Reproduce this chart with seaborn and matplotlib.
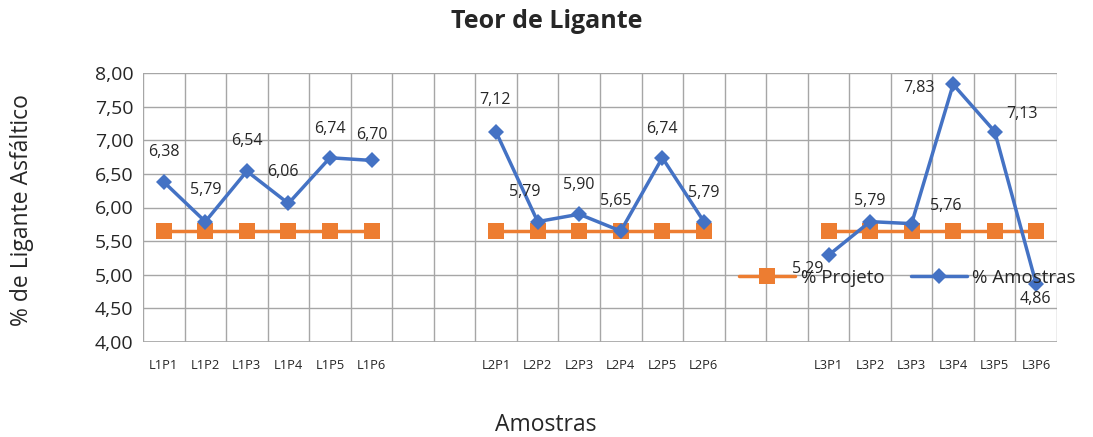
import numpy as np
import pandas as pd
import matplotlib.pyplot as plt
from matplotlib.lines import Line2D
import seaborn as sns

# Teor de ligante por amostra (3 lotes, 6 pontos cada)

lotes = ['L1', 'L2', 'L3']
pontos = ['P1', 'P2', 'P3', 'P4', 'P5', 'P6']
amostras_l1 = [6.38, 5.79, 6.54, 6.06, 6.74, 6.70]
amostras_l2 = [7.12, 5.79, 5.90, 5.65, 6.74, 5.79]
amostras_l3 = [5.29, 5.79, 5.76, 7.83, 7.13, 4.86]
projeto = 5.65

# label offsets (pixels) for each data label, picked to look like the excel chart
offsets = [
    [(0, 30), (0, 32), (0, 30), (-6, 31), (0, 29), (0, 25)],
    [(-1, 32), (-13, 30), (0, 29), (-5, 30), (0, 29), (0, 29)],
    [(-21, -14), (0, 21), (34, 18), (-34, -4), (27, 18), (-1, -15)],
]

sns.set_style('white')
plt.rcParams['font.family'] = ['Open Sans', 'DejaVu Sans']

fig, ax = plt.subplots(figsize=(10.93, 4.37), dpi=100)
fig.subplots_adjust(left=143/1093, right=1057/1093, top=1-73/437, bottom=1-342/437)

blue = '#4472C4'
orange = '#ED7D31'

labels = []
for g, lote in enumerate(lotes):
    vals = [amostras_l1, amostras_l2, amostras_l3][g]
    x = np.arange(6) + g * 8
    df = pd.DataFrame({'x': x, 'amostra': vals, 'projeto': [projeto] * 6})
    sns.lineplot(data=df, x='x', y='projeto', ax=ax, color=orange, linewidth=2.5,
                 marker='s', markersize=11, markeredgewidth=0, zorder=3)
    sns.lineplot(data=df, x='x', y='amostra', ax=ax, color=blue, linewidth=2.5,
                 marker='D', markersize=8, markeredgewidth=0, zorder=4)
    for i, v in enumerate(vals):
        dx, dy = offsets[g][i]
        ax.annotate(f'{v:.2f}'.replace('.', ','), (x[i], v), xytext=(dx, dy),
                    textcoords='offset pixels', ha='center', va='center', fontsize=11.5, zorder=5)
    labels += [lote + p for p in pontos] + ['', '']

labels = labels[:22]

ax.set_xlim(-0.5, 21.5)
ax.set_ylim(4, 8)
ax.set_xticks(np.arange(-0.5, 22, 1))
ax.set_xticklabels([])
ax.set_xticks(np.arange(22), labels, minor=True)
ax.tick_params(axis='x', which='major', length=5, color='#A6A6A6', width=1, direction='out')
ax.tick_params(axis='x', which='minor', length=0, labelsize=9.3, pad=12)
yt = np.arange(4, 8.01, 0.5)
ax.set_yticks(yt, [f'{t:.2f}'.replace('.', ',') for t in yt])
ax.tick_params(axis='y', length=3, color='#A6A6A6', labelsize=14, pad=4)
ax.grid(True, which='major', color='#A6A6A6', linewidth=1)
for s in ax.spines.values():
    s.set_visible(False)
ax.axhline(4, color='#A6A6A6', linewidth=1.2, zorder=1)

ax.set_xlabel('')
ax.set_ylabel('')
fig.text(0.5, 1 - 22/437, 'Teor de Ligante', ha='center', va='center', fontsize=18, fontweight='bold')
fig.text(22/1093, 1 - 210/437, '% de Ligante Asfáltico', rotation=90, ha='center', va='center', fontsize=16.5)
fig.text(546/1093, 1 - 425/437, 'Amostras', ha='center', va='center', fontsize=16.5)

handles = [
    Line2D([], [], color=orange, marker='s', markersize=11, markeredgewidth=0, linewidth=2.5),
    Line2D([], [], color=blue, marker='D', markersize=8, markeredgewidth=0, linewidth=2.5),
]
ax.legend(handles, ['% Projeto', '% Amostras'], ncol=2, frameon=False, loc='center left',
          bbox_to_anchor=((722 - 143) / 914, (342 - 278) / 269), fontsize=13.5,
          handlelength=3.0, columnspacing=1.4, handletextpad=0.3)

plt.savefig('out.png', dpi=100)
